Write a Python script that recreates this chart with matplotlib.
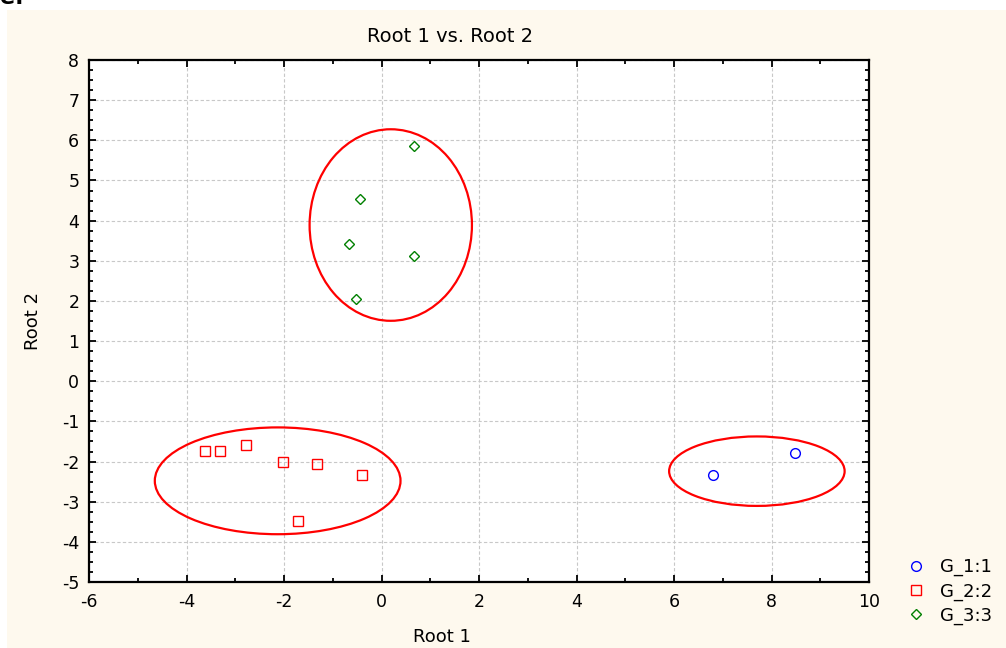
import matplotlib
matplotlib.use("Agg")
import matplotlib.pyplot as plt
from matplotlib.patches import Ellipse, Rectangle
from matplotlib.ticker import MultipleLocator

# group scores (Root 1, Root 2)
g1_x = [6.80, 8.48]
g1_y = [-2.34, -1.79]
g2_x = [-3.62, -3.31, -2.78, -2.03, -1.32, -0.39, -1.72]
g2_y = [-1.74, -1.74, -1.59, -2.01, -2.05, -2.34, -3.48]
g3_x = [0.67, -0.44, -0.66, 0.67, -0.52]
g3_y = [5.87, 4.53, 3.43, 3.11, 2.04]
labels = ["G_1:1", "G_2:2", "G_3:3"]

# ellipses round each group: centre x, centre y, width, height
ell_cx = [7.70, -2.13, 0.19]
ell_cy = [-2.24, -2.48, 3.89]
ell_w = [3.60, 5.04, 3.33]
ell_h = [1.73, 2.66, 4.77]

plt.rcParams['font.family'] = ['DejaVu Sans']
plt.rcParams['axes.unicode_minus'] = False

W, H = 1006, 648
fig = plt.figure(figsize=(W / 100, H / 100), dpi=100, facecolor='white')
fig.patches.append(Rectangle((7 / W, 0), 1, 1 - 10 / H, transform=fig.transFigure,
                             facecolor='#fef9ee', edgecolor='none', zorder=-10))
fig.text(0.0, 1.0 + 2 / H, "e.", fontsize=16, fontweight='bold', va='center', ha='left')

ax = fig.add_axes([89 / W, 1 - 582 / H, 780 / W, 522 / H])
ax.set_facecolor('white')

ax.plot(g1_x, g1_y, 'o', ls='none', mfc='none', mec='blue', ms=7, mew=1, label=labels[0], zorder=3)
ax.plot(g2_x, g2_y, 's', ls='none', mfc='none', mec='red', ms=7, mew=1, label=labels[1], zorder=3)
ax.plot(g3_x, g3_y, 'D', ls='none', mfc='none', mec='green', ms=5.5, mew=1, label=labels[2], zorder=3)

for cx, cy, w, h in zip(ell_cx, ell_cy, ell_w, ell_h):
    ax.add_patch(Ellipse((cx, cy), w, h, fill=False, edgecolor='red', lw=1.6, zorder=2))

ax.set_xlim(-6, 10)
ax.set_ylim(-5, 8)
ax.xaxis.set_major_locator(MultipleLocator(2))
ax.xaxis.set_minor_locator(MultipleLocator(1))
ax.yaxis.set_major_locator(MultipleLocator(1))
ax.yaxis.set_minor_locator(MultipleLocator(0.25))
ax.tick_params(which='both', direction='in', top=True, right=True, labelsize=12.5, width=1.3)
ax.tick_params(which='major', length=5, pad=8)
ax.tick_params(axis='y', which='major', pad=7)
ax.tick_params(which='minor', length=3)
ax.grid(True, which='major', color='#c8c8c8', ls=(0, (3, 2)), lw=0.8)
ax.set_axisbelow(True)
for s in ax.spines.values():
    s.set_linewidth(1.6)

fig.text(450 / W, 1 - 36 / H, "Root 1 vs. Root 2", fontsize=14, ha='center', va='center')
fig.text(442 / W, 1 - 637 / H, "Root 1", fontsize=13, ha='center', va='center')
fig.text(33 / W, 1 - 321 / H, "Root 2", fontsize=13, ha='center', va='center', rotation=90)

fig.legend(loc='upper left', bbox_to_anchor=(900 / W, 1 - 551 / H), frameon=False,
           fontsize=13, handletextpad=0.8, labelspacing=0.32, handlelength=1.0,
           borderaxespad=0)

fig.savefig("out.png", dpi=100, facecolor=fig.get_facecolor())
